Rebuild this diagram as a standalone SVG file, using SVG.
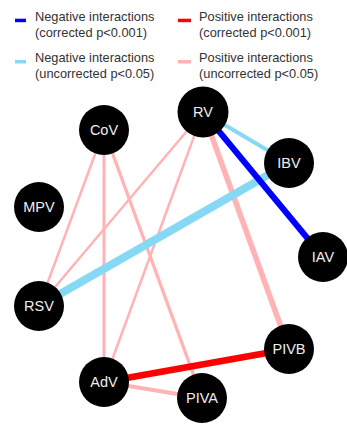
<svg xmlns="http://www.w3.org/2000/svg" width="347" height="424" viewBox="0 0 347 424">
<style>
.lg{font-family:"Liberation Sans",Arial,sans-serif;font-size:12.8px;fill:#333}
.nd circle{fill:#000}
.nd text{font-family:"Liberation Sans",Arial,sans-serif;font-size:14.5px;fill:#eeeeee;text-anchor:middle;dominant-baseline:central}
.pink{stroke:#ffb3b5;fill:none}
.lblue{stroke:#86d9f5;fill:none}
.blue{stroke:#0000ff;fill:none}
.red{stroke:#ff0000;fill:none}
</style>
<rect width="347" height="424" fill="#fff"/>
<g id="legend">
<rect x="15" y="18.7" width="11" height="3.5" fill="#0000ff"/>
<text class="lg" x="35" y="20.5">Negative interactions</text>
<text class="lg" x="35" y="36.5">(corrected p&lt;0.001)</text>
<rect x="178" y="18.7" width="13" height="3.5" fill="#ff0000"/>
<text class="lg" x="199" y="20.5">Positive interactions</text>
<text class="lg" x="199" y="36.5">(corrected p&lt;0.001)</text>
<rect x="15" y="60" width="11" height="3.5" fill="#86d9f5"/>
<text class="lg" x="35" y="61.5">Negative interactions</text>
<text class="lg" x="35" y="77.5">(uncorrected p&lt;0.05)</text>
<rect x="178" y="60" width="13" height="3.5" fill="#ffb3b5"/>
<text class="lg" x="199" y="61.5">Positive interactions</text>
<text class="lg" x="199" y="77.5">(uncorrected p&lt;0.05)</text>
</g>
<g id="connectors">
<line class="pink" x1="203" y1="112" x2="39" y2="306" stroke-width="2.5"/>
<line class="pink" x1="203" y1="112" x2="104" y2="382" stroke-width="2.5"/>
<line class="pink" x1="104" y1="130" x2="39" y2="306" stroke-width="2.5"/>
<line class="pink" x1="104" y1="130" x2="104" y2="382" stroke-width="3"/>
<line class="pink" x1="104" y1="130" x2="202" y2="398" stroke-width="3.3"/>
<line class="pink" x1="203" y1="112" x2="289" y2="349" stroke-width="5.5"/>
<line class="pink" x1="104" y1="382" x2="202" y2="398" stroke-width="4"/>
<line class="lblue" x1="203" y1="112" x2="289" y2="163" stroke-width="4"/>
<line class="lblue" x1="289" y1="163" x2="39" y2="306" stroke-width="8"/>
<line class="blue" x1="203" y1="112" x2="323" y2="257" stroke-width="6"/>
<line class="red" x1="104" y1="382" x2="289" y2="349" stroke-width="6.5"/>
</g>
<g id="node-CoV" class="nd"><circle cx="104" cy="130" r="25"/><text x="104" y="130">CoV</text></g>
<g id="node-RV" class="nd"><circle cx="203" cy="112" r="25.5"/><text x="203" y="112">RV</text></g>
<g id="node-IBV" class="nd"><circle cx="289" cy="163" r="25"/><text x="289" y="163">IBV</text></g>
<g id="node-MPV" class="nd"><circle cx="39" cy="207" r="25"/><text x="39" y="207">MPV</text></g>
<g id="node-IAV" class="nd"><circle cx="323" cy="257" r="25"/><text x="323" y="257">IAV</text></g>
<g id="node-RSV" class="nd"><circle cx="39" cy="306" r="25"/><text x="39" y="306">RSV</text></g>
<g id="node-PIVB" class="nd"><circle cx="289" cy="349" r="25"/><text x="289" y="349">PIVB</text></g>
<g id="node-AdV" class="nd"><circle cx="104" cy="382" r="25"/><text x="104" y="382">AdV</text></g>
<g id="node-PIVA" class="nd"><circle cx="202" cy="398" r="25"/><text x="202" y="398">PIVA</text></g>
</svg>
